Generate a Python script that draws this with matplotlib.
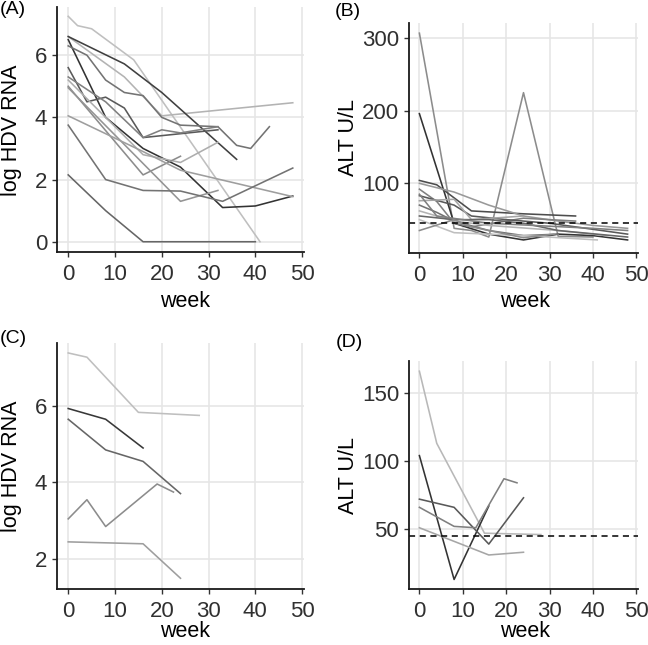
import matplotlib
matplotlib.use("Agg")
import matplotlib.pyplot as plt

plt.rcParams['font.family'] = ['Liberation Sans', 'DejaVu Sans']

# PANEL A: log HDV RNA, grupo 1
# =============================
a_weeks = [
    [0, 2, 5, 14, 41],
    [0, 12, 20, 48],
    [0, 12, 20, 36],
    [0, 8, 16, 24, 33, 40, 48],
    [0, 4, 8, 12, 16, 20, 24, 32, 36, 39, 43],
    [0, 4, 8, 12, 16, 32],
    [0, 8, 16, 20, 24, 32],
    [0, 16, 24, 32],
    [0, 16, 24],
    [0, 24, 32],
    [0, 16, 24, 48],
    [0, 8, 16, 24, 33, 48],
    [0, 8, 16, 40],
]
a_values = [
    [7.25, 6.95, 6.85, 5.85, 0.0],
    [6.6, 5.3, 4.05, 4.47],
    [6.6, 5.72, 4.8, 2.65],
    [6.5, 4.0, 3.0, 2.4, 1.1, 1.15, 1.47],
    [6.3, 6.0, 5.2, 4.8, 4.7, 4.0, 3.75, 3.7, 3.1, 3.0, 3.7],
    [5.6, 4.5, 4.65, 4.3, 3.35, 3.6],
    [5.3, 4.5, 3.35, 3.6, 3.5, 3.7],
    [5.2, 2.8, 2.55, 3.2],
    [5.0, 2.15, 2.75],
    [4.95, 1.3, 1.65],
    [4.05, 2.9, 2.3, 1.45],
    [3.75, 2.0, 1.65, 1.63, 1.3, 2.37],
    [2.15, 1.0, 0.0, 0.0],
]
a_grays = [0.75, 0.7, 0.25, 0.2, 0.45, 0.35, 0.5, 0.68, 0.55, 0.58, 0.62, 0.45, 0.4]

# PANEL B: ALT, grupo 1
# =====================
b_weeks = [
    [0, 8, 12, 16, 24, 32, 40],
    [0, 8, 16, 24, 32, 40, 48],
    [0, 4, 12, 24, 36],
    [0, 8, 16, 24, 32, 40, 48],
    [0, 4, 8, 12, 24, 36],
    [0, 8, 12, 20, 30, 48],
    [0, 8, 12, 24],
    [0, 4, 8, 16, 24, 32],
    [0, 8, 16, 32, 43],
    [0, 8, 16, 24, 32, 48],
    [0, 8, 16, 24, 41],
    [0, 8, 12, 24, 31],
    [0, 4, 16, 40, 48],
]
b_values = [
    [307, 38, 35, 26, 225, 27, 26],
    [196, 45, 30, 22, 30, 28, 22],
    [104, 98, 62, 58, 55],
    [100, 88, 70, 55, 48, 42, 38],
    [92, 75, 45, 40, 52, 48],
    [83, 70, 55, 50, 45, 30],
    [76, 78, 50, 55],
    [70, 60, 48, 35, 28, 30],
    [62, 48, 42, 35, 28],
    [55, 50, 50, 45, 35, 26],
    [50, 32, 30, 28, 22],
    [35, 50, 40, 25, 30],
    [85, 55, 45, 38, 35],
]
b_grays = [0.55, 0.2, 0.3, 0.6, 0.5, 0.35, 0.65, 0.45, 0.7, 0.4, 0.75, 0.55, 0.5]

# PANEL C: log HDV RNA, grupo 2
# =============================
c_weeks = [
    [0, 4, 15, 28],
    [0, 8, 16],
    [0, 8, 16, 24],
    [0, 4, 8, 19, 22.5],
    [0, 16, 24],
]
c_values = [
    [7.38, 7.27, 5.83, 5.75],
    [5.93, 5.65, 4.9],
    [5.65, 4.85, 4.55, 3.71],
    [3.05, 3.55, 2.85, 3.96, 3.75],
    [2.45, 2.4, 1.5],
]
c_grays = [0.75, 0.22, 0.4, 0.55, 0.62]

# PANEL D: ALT, grupo 2
# =====================
d_weeks = [
    [0, 4, 15, 28],
    [0, 8, 16],
    [0, 8, 16, 24],
    [0, 8, 13, 19.5, 22.5],
    [0, 16, 24],
]
d_values = [
    [166, 113, 47, 46],
    [104, 13, 67],
    [72, 66, 39, 73],
    [66, 52, 51, 87, 84],
    [51, 31, 33],
]
d_grays = [0.72, 0.2, 0.35, 0.5, 0.65]

alt_limite = 45

W, H = 648, 645
fig = plt.figure(figsize=(W / 100, H / 100), dpi=100)


def add_panel(left, right, top, bottom):
    return fig.add_axes([left / W, 1 - bottom / H, (right - left) / W, (bottom - top) / H])


def style(ax, ylim, yticks):
    ax.set_xlim(-2.4, 50.4)
    ax.set_ylim(*ylim)
    ax.set_xticks([0, 10, 20, 30, 40, 50])
    ax.set_yticks(yticks)
    ax.grid(True, color='#e6e6e6', lw=1.2)
    ax.set_axisbelow(True)
    for s in ['top', 'right']:
        ax.spines[s].set_visible(False)
    for s in ['left', 'bottom']:
        ax.spines[s].set_linewidth(1.3)
        ax.spines[s].set_color('#1a1a1a')
    ax.tick_params(length=3.5, width=1.0, color='#333333', labelsize=16,
                   labelcolor='#303030', pad=3.5)
    ax.tick_params(axis='x', pad=5)


paneles = [
    (add_panel(57, 304, 7, 252), a_weeks, a_values, a_grays, (-0.33, 7.55), [0, 2, 4, 6], False),
    (add_panel(409, 638, 23, 253), b_weeks, b_values, b_grays, (4, 321), [100, 200, 300], True),
    (add_panel(57, 304, 343, 589), c_weeks, c_values, c_grays, (1.22, 7.64), [2, 4, 6], False),
    (add_panel(409, 638, 361, 589), d_weeks, d_values, d_grays, (6, 173.5), [50, 100, 150], True),
]

for ax, semanas, valores, grises, ylim, yticks, es_alt in paneles:
    for x, y, g in zip(semanas, valores, grises):
        ax.plot(x, y, color=str(g), lw=1.15)
    if es_alt:
        ax.axhline(alt_limite, color='black', lw=1.1, ls=(0, (4, 3)))
    style(ax, ylim, yticks)


# etiquetas (coordenadas en pixeles)
def ftext(x, y, s, size=15.5, **kw):
    fig.text(x / W, 1 - y / H, s, fontsize=size, color='black', **kw)


ftext(0, 1, '(A)', size=14, ha='left', va='top')
ftext(335, 3, '(B)', size=14, ha='left', va='top')
ftext(0, 330, '(C)', size=14, ha='left', va='top')
ftext(336, 334, '(D)', size=14, ha='left', va='top')

ftext(12, 130, 'log HDV RNA', rotation=90, ha='center', va='center')
ftext(348, 138, 'ALT U/L', rotation=90, ha='center', va='center')
ftext(12, 466, 'log HDV RNA', rotation=90, ha='center', va='center')
ftext(348, 475, 'ALT U/L', rotation=90, ha='center', va='center')

ftext(185, 291, 'week', ha='center', va='top')
ftext(525, 291, 'week', ha='center', va='top')
ftext(185, 621, 'week', ha='center', va='top')
ftext(525, 621, 'week', ha='center', va='top')

fig.savefig('out.png', dpi=100)
